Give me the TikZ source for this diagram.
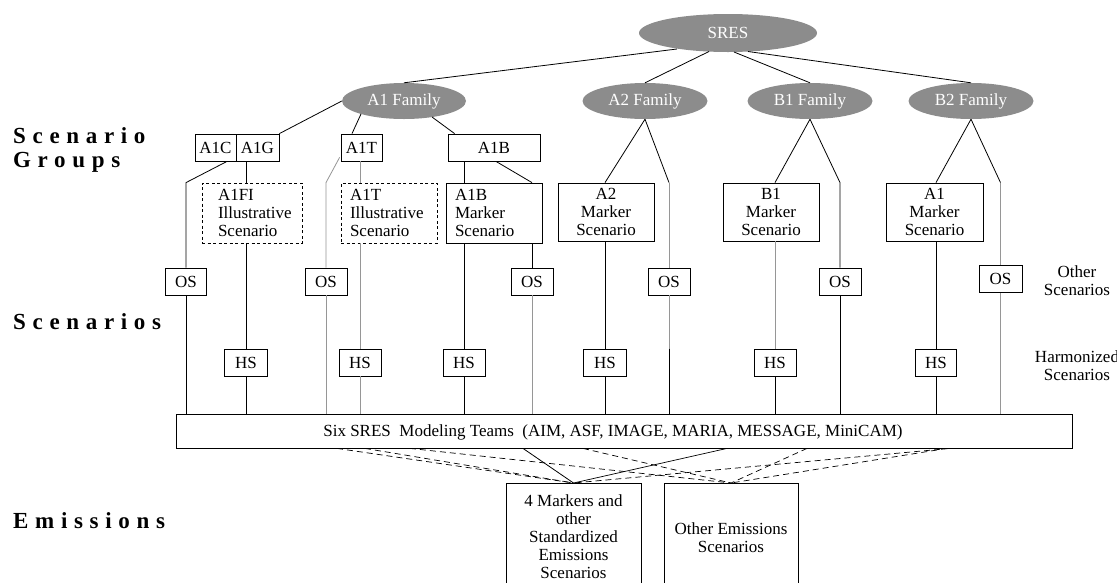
\documentclass[tikz,border=0pt]{standalone}
\usepackage{fontspec}
\setmainfont{Liberation Serif}
\newfontfamily\lblfont{Liberation Serif Bold}[LetterSpace=29]
\usetikzlibrary{shapes.geometric,calc}
\definecolor{famgray}{RGB}{140,140,140}
\definecolor{lgray}{RGB}{150,150,150}
\begin{document}
\begin{tikzpicture}[x=1pt,y=-1pt,
  every node/.style={font=\fontsize{17}{18}\selectfont, inner sep=0pt},
  conn/.style={line width=0.8pt, black},
  lconn/.style={line width=0.8pt, lgray},
  fan/.style={line width=0.7pt, dash pattern=on 6pt off 4pt},
  fam/.style={ellipse, fill=famgray, text=white, minimum width=125pt, minimum height=36pt},
  gbox/.style={draw, line width=0.8pt, minimum height=27pt},
  sbox/.style={draw, line width=0.8pt, minimum height=27pt, minimum width=42pt},
  mbox/.style={draw, line width=0.8pt, minimum height=60pt, align=center},
  ibox/.style={mbox, dash pattern=on 3pt off 2.5pt, align=left},
  side/.style={anchor=west, font=\lblfont\fontsize{23}{24}\selectfont},
  note/.style={align=center}
]
\clip (0,0) rectangle (1117,582);
\fill[white] (0,0) rectangle (1117,582);

% families
\node[fam, minimum width=178pt, minimum height=38pt] (sres) at (728,33) {SRES};
\node[fam, minimum width=124pt] (fa1) at (404,101) {A1 Family};
\node[fam] (fa2) at (645,101) {A2 Family};
\node[fam] (fb1) at (810,101) {B1 Family};
\node[fam] (fb2) at (971,101) {B2 Family};

% scenario groups
\node[gbox, minimum width=41pt] (a1c) at (215.5,147.5) {A1C};
\node[gbox, minimum width=43pt] (a1g) at (257.5,147.5) {A1G};
\node[gbox, minimum width=41pt] (a1t) at (361.5,147.5) {A1T};
\node[gbox, minimum width=92pt] (a1b) at (494,147.5) {A1B};

% illustrative / marker scenarios
\node[ibox, minimum width=100pt, text width=68pt] (a1fi) at (252,213) {A1FI\\Illustrative\\Scenario};
\node[ibox, minimum width=96pt, text width=78pt] (a1ti) at (389,213) {A1T\\Illustrative\\Scenario};
\node[mbox, align=left, minimum width=96pt, text width=78pt] (a1bm) at (494,213) {A1B\\Marker\\Scenario};
\node[mbox, minimum width=96pt, minimum height=58pt] (a2m) at (606,212) {A2\\Marker\\Scenario};
\node[mbox, minimum width=96pt, minimum height=58pt] (b1m) at (771,212) {B1\\Marker\\Scenario};
\node[mbox, minimum width=97pt, minimum height=58pt] (a1m) at (934.5,212) {A1\\Marker\\Scenario};

% other scenarios
\node[sbox, minimum width=41pt] (os1) at (186,281.5) {OS};
\node[sbox] (os2) at (326,281.5) {OS};
\node[sbox] (os3) at (532,281.5) {OS};
\node[sbox] (os4) at (669,281.5) {OS};
\node[sbox] (os5) at (840,281.5) {OS};
\node[sbox, minimum width=43pt] (os6) at (1000.5,279) {OS};

% harmonized scenarios
\node[sbox, minimum width=43pt] (hs1) at (246,362.5) {HS};
\node[sbox] (hs2) at (360,362.5) {HS};
\node[sbox] (hs3) at (464,362.5) {HS};
\node[sbox, minimum width=43pt] (hs4) at (605,362.5) {HS};
\node[sbox] (hs5) at (775,362.5) {HS};
\node[sbox, minimum width=41pt] (hs6) at (936,362.5) {HS};

% modeling teams
\node[draw, line width=0.8pt, minimum width=896pt, minimum height=34pt] (model) at (624,431) {};
\node (modelt) at (613,432) {Six SRES\ \ Modeling Teams\ \ (AIM, ASF, IMAGE, MARIA, MESSAGE, MiniCAM)};

% emissions
\node[draw, line width=0.8pt, minimum width=135pt, minimum height=117pt, anchor=north] (em1) at (573.5,483) {};
\node[align=center] (em1t) at (573.5,537) {4 Markers and\\other\\Standardized\\Emissions\\Scenarios};
\node[draw, line width=0.8pt, minimum width=134pt, minimum height=117pt, anchor=north] (em2) at (731,483) {};
\node[align=center] (em2t) at (731,538) {Other Emissions\\Scenarios};

% side labels
\node[side, align=left] (lgrp) at (13,150) {Scenario\\Groups};
\node[side] (lscen) at (13,322) {Scenarios};
\node[side] (lemis) at (13,521) {Emissions};
\node[note] (nos) at (1077,281) {Other\\Scenarios};
\node[note] (nhs) at (1077,366) {Harmonized\\Scenarios};

% SRES to families
\draw[conn] ($(sres)+(-51,16)$) -- (fa1.north);
\draw[conn] ($(sres)+(-19,18.5)$) -- (fa2.north);
\draw[conn] ($(sres)+(6,19)$) -- (fb1.north);
\draw[conn] ($(sres)+(20,18.5)$) -- (fb2.north);

% A1 family
\draw[conn] (fa1.west) -- (a1g.north east);
\draw[conn] ($(fa1)+(-43,13)$) -- ($(a1t.north)+(-9.5,0)$);
\draw[conn] ($(fa1)+(28,16)$) -- ($(a1b.north west)+(7,0)$);

\draw[conn] ($(a1c.south)+(11.5,0)$) -- (os1 |- a1fi.north) -- (os1.north);
\draw[conn] (os1.south) -- (os1 |- model.north);
\draw[conn] (hs1 |- a1g.south) -- (hs1 |- a1fi.north);
\draw[conn] (hs1 |- a1fi.south) -- (hs1.north);
\draw[conn] (hs1.south) -- (hs1 |- model.north);

\draw[lconn] ($(a1t.south west)+(-1,-4)$) -- (os2 |- a1ti.north) -- (os2.north);
\draw[lconn] (os2.south) -- (os2 |- model.north);
\draw[lconn] (hs2 |- a1t.south) -- (hs2 |- a1ti.north);
\draw[lconn] (hs2 |- a1ti.south) -- (hs2.north);
\draw[lconn] (hs2.south) -- (hs2 |- model.north);

\draw[conn] (hs3 |- a1b.south) -- (hs3 |- a1bm.north);
\draw[conn] (hs3 |- a1bm.south) -- (hs3.north);
\draw[conn] (hs3.south) -- (hs3 |- model.north);
\draw[conn] ($(a1b.south)+(2,0)$) -- (os3 |- a1bm.north);
\draw[conn] (os3 |- a1bm.south) -- (os3.north);
\draw[lconn] (os3.south) -- (os3 |- model.north);

% A2 family
\draw[conn] (fa2.south) -- (hs4 |- a2m.north);
\draw[conn] (fa2.south) -- (os4 |- a2m.north);
\draw[lconn] (os4 |- a2m.north) -- (os4.north);
\draw[lconn] (os4.south) -- (os4 |- hs4.north);
\draw[conn] (os4 |- hs4.north) -- (os4 |- model.north);
\draw[conn] (hs4 |- a2m.south) -- (hs4.north);
\draw[conn] (hs4.south) -- (hs4 |- model.north);

% B1 family
\draw[conn] (fb1.south) -- (hs5 |- b1m.north);
\draw[conn] (fb1.south) -- (os5 |- b1m.north) -- (os5.north);
\draw[conn] (os5.south) -- (os5 |- model.north);
\draw[lconn] (hs5 |- b1m.south) -- (hs5.north);
\draw[conn] (hs5.south) -- (hs5 |- model.north);

% B2 family
\draw[conn] (fb2.south) -- (hs6 |- a1m.north);
\draw[conn] (fb2.south) -- (os6 |- a1m.north);
\draw[lconn] (os6 |- a1m.north) -- (os6.north);
\draw[lconn] (os6.south) -- (os6 |- model.north);
\draw[conn] (hs6 |- a1m.south) -- (hs6.north);
\draw[conn] (hs6.south) -- (hs6 |- model.north);

% modeling teams to emissions
\draw[fan] (337,0 |- model.south) -- (em1.north);
\draw[fan] (365,0 |- model.south) -- (em1.north);
\draw[conn] (523,0 |- model.south) -- (em1.north);
\draw[conn, line width=0.7pt] (727,0 |- model.south) -- (em1.north);
\draw[fan] (950,0 |- model.south) -- (em1.north);
\draw[fan] (410,0 |- model.south) -- (em2.north);
\draw[fan] (583,0 |- model.south) -- (em2.north);
\draw[fan] (807,0 |- model.south) -- (em2.north);
\draw[fan] (947,0 |- model.south) -- (em2.north);
\end{tikzpicture}
\end{document}
